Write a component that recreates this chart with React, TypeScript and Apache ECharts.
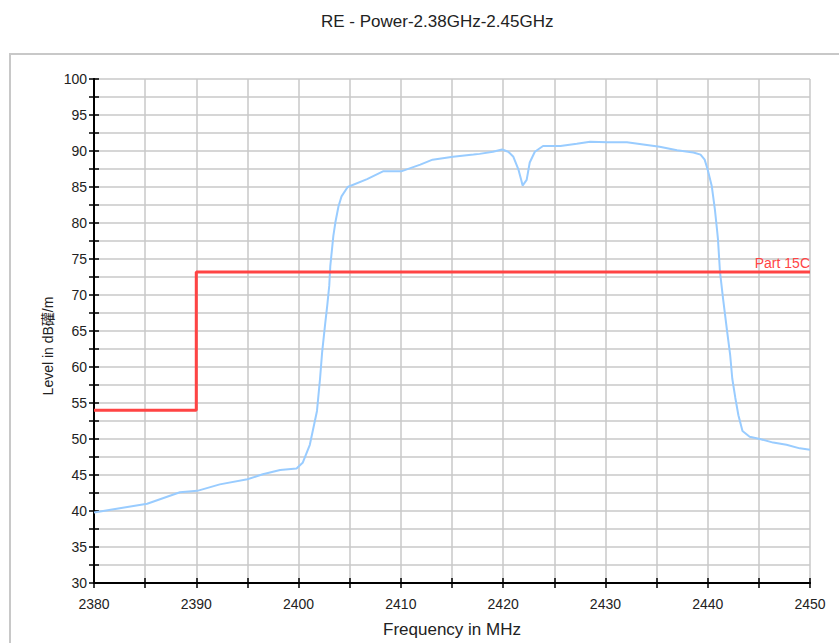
import React, { useEffect, useRef } from 'react';
import * as echarts from 'echarts';

// Measured trace (frequency in MHz, level in dBµV/m)
const freqMHz = [
  2380.0, 2385.2, 2388.4, 2390.1, 2392.3, 2395.0, 2396.5, 2398.2, 2399.8, 2400.4,
  2401.1, 2401.8, 2402.1, 2402.3, 2402.6, 2402.8, 2403.0, 2403.1, 2403.3, 2403.4,
  2403.6, 2403.9, 2404.2, 2404.8, 2406.7, 2408.3, 2410.1, 2411.9, 2413.1, 2415.1,
  2417.1, 2417.7, 2419.0, 2419.9, 2420.5, 2421.0, 2421.5, 2421.8, 2421.9, 2422.3,
  2422.6, 2423.1, 2423.9, 2425.6, 2427.2, 2428.5, 2430.2, 2432.1, 2433.7, 2435.3,
  2437.0, 2438.6, 2439.3, 2439.7, 2440.0, 2440.4, 2440.7, 2440.9, 2441.0, 2441.2,
  2441.5, 2441.9, 2442.2, 2442.4, 2442.7, 2443.0, 2443.4, 2444.1, 2445.1, 2446.4,
  2447.7, 2449.0, 2450.0,
];
const levelDb = [
  39.8, 41.0, 42.6, 42.8, 43.7, 44.4, 45.1, 45.7, 45.9, 46.7,
  49.2, 53.9, 58.4, 62.0, 66.0, 68.5, 71.3, 74.0, 76.8, 78.2,
  80.1, 82.3, 83.7, 85.0, 86.1, 87.2, 87.2, 88.1, 88.8, 89.2,
  89.5, 89.6, 89.9, 90.2, 89.9, 89.2, 87.4, 85.8, 85.2, 86.0,
  88.4, 89.9, 90.7, 90.7, 91.0, 91.3, 91.2, 91.2, 90.9, 90.6,
  90.1, 89.8, 89.5, 88.8, 87.4, 85.1, 81.9, 79.2, 77.8, 73.2,
  69.5, 64.9, 61.6, 58.4, 55.7, 53.3, 51.1, 50.3, 50.0, 49.5,
  49.2, 48.7, 48.5,
];

// Limit line (Part 15C)
const limitFreq = [2380, 2390, 2390, 2450];
const limitLevel = [54, 54, 73.2, 73.2];
const limitName = 'Part 15C';

// Axis tick labels
const xLabelValues = [2380, 2390, 2400, 2410, 2420, 2430, 2440, 2450];
const yLabelValues = [30, 35, 40, 45, 50, 55, 60, 65, 70, 75, 80, 85, 90, 95, 100];

const titleText = 'RE - Power-2.38GHz-2.45GHz';
const xAxisName = 'Frequency in MHz';
const yAxisName = 'Level in dB礶/m';

const FONT = '"Liberation Sans", Arial, "Noto Sans CJK SC", sans-serif';

export default function App() {
  const ref = useRef<HTMLDivElement>(null);

  useEffect(() => {
    if (!ref.current) return;
    const chart = echarts.init(ref.current, undefined, { renderer: 'svg' });

    const traceData = freqMHz.map((f, i) => [f, levelDb[i]]);
    const limitData = limitFreq.map((f, i) => [f, limitLevel[i]]);

    const xBase = {
      type: 'value' as const,
      min: 2380,
      max: 2450,
      interval: 5,
      position: 'bottom' as const,
    };
    const yBase = {
      type: 'value' as const,
      min: 30,
      max: 100,
      interval: 2.5,
      position: 'left' as const,
    };
    const axisLineStyle = { show: true, onZero: false, lineStyle: { color: '#000', width: 2 } };
    const tickStyle = { color: '#000', width: 1.5 };
    const gridLine = { show: true, lineStyle: { color: '#c8c8c8', width: 1.5 } };

    chart.setOption({
      animation: false,
      backgroundColor: '#fff',
      title: {
        text: titleText,
        left: 316,
        top: 8,
        textStyle: { fontSize: 17, fontWeight: 'normal', color: '#222', fontFamily: FONT },
      },
      grid: { left: 94, right: 29, top: 79, bottom: 57, containLabel: false },
      graphic: [
        {
          type: 'rect',
          z: -10,
          silent: true,
          shape: { x: 10, y: 54, width: 900, height: 700 },
          style: { fill: 'none', stroke: '#c8c8c8', lineWidth: 2 },
        },
        {
          type: 'text',
          x: 48,
          y: 346,
          rotation: Math.PI / 2,
          silent: true,
          style: {
            text: yAxisName,
            fontSize: 14,
            fontFamily: FONT,
            fill: '#222',
            align: 'center',
            verticalAlign: 'middle',
          },
        },
      ],
      xAxis: [
        {
          ...xBase,
          name: xAxisName,
          nameLocation: 'middle',
          nameGap: 38,
          nameTextStyle: { fontSize: 17, color: '#222', fontFamily: FONT },
          axisLine: axisLineStyle,
          axisTick: { show: true, inside: false, length: 5, lineStyle: tickStyle },
          axisLabel: {
            fontSize: 14,
            color: '#222',
            fontFamily: FONT,
            margin: 14,
            formatter: (v: number) => (xLabelValues.includes(Math.round(v)) && Math.abs(v - Math.round(v)) < 1e-6 ? String(Math.round(v)) : ''),
          },
          splitLine: gridLine,
        },
        {
          ...xBase,
          axisLine: axisLineStyle,
          axisTick: { show: true, inside: true, length: 5, lineStyle: tickStyle },
          axisLabel: { show: false },
          splitLine: { show: false },
        },
      ],
      yAxis: [
        {
          ...yBase,
          axisLine: axisLineStyle,
          axisTick: { show: true, inside: false, length: 5, lineStyle: tickStyle },
          axisLabel: {
            fontSize: 14,
            color: '#222',
            fontFamily: FONT,
            margin: 7,
            formatter: (v: number) => {
              const r = Math.round(v);
              return Math.abs(v - r) < 1e-6 && yLabelValues.includes(r) ? String(r) : '';
            },
          },
          splitLine: gridLine,
        },
        {
          ...yBase,
          axisLine: axisLineStyle,
          axisTick: { show: true, inside: true, length: 5, lineStyle: tickStyle },
          axisLabel: { show: false },
          splitLine: { show: false },
        },
      ],
      series: [
        {
          type: 'line',
          name: 'Trace',
          xAxisIndex: 0,
          yAxisIndex: 0,
          data: traceData,
          showSymbol: false,
          symbol: 'none',
          lineStyle: { color: '#99ccff', width: 2 },
          z: 3,
        },
        {
          type: 'line',
          name: limitName,
          xAxisIndex: 0,
          yAxisIndex: 0,
          data: limitData,
          showSymbol: false,
          symbol: 'none',
          lineStyle: { color: '#ff4444', width: 3 },
          z: 4,
          markPoint: {
            symbol: 'circle',
            symbolSize: 1,
            itemStyle: { color: 'transparent' },
            silent: true,
            data: [
              {
                coord: [limitFreq[limitFreq.length - 1], limitLevel[limitLevel.length - 1]],
                label: {
                  show: true,
                  formatter: limitName,
                  position: 'top',
                  distance: 1,
                  align: 'right',
                  verticalAlign: 'bottom',
                  fontSize: 14,
                  color: '#ff4444',
                  fontFamily: FONT,
                },
              },
            ],
          },
        },
      ],
    });

    return () => chart.dispose();
  }, []);

  return (
    <div
      ref={ref}
      style={{ position: 'fixed', left: 0, top: 0, width: 839, height: 643 }}
    />
  );
}
